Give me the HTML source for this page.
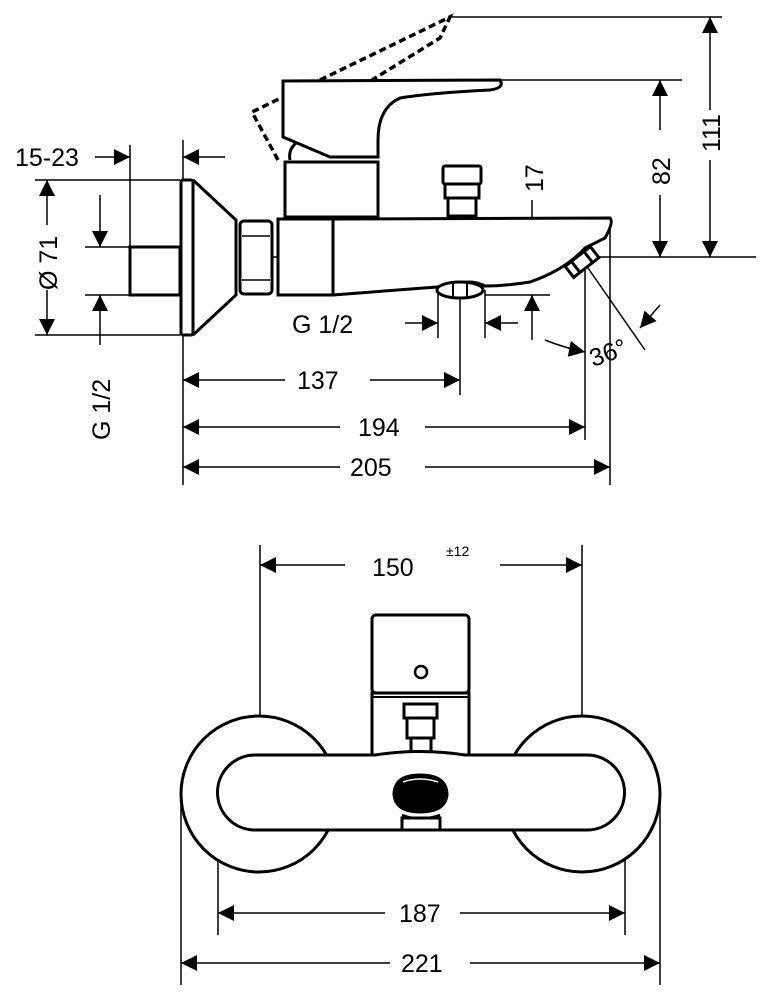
<!DOCTYPE html>
<html><head><style>body{margin:0;background:#fff}svg{display:block}text{font-family:"Liberation Sans",sans-serif;font-size:25px;fill:#000}</style></head><body>
<svg width="764" height="1004" viewBox="0 0 764 1004" xmlns="http://www.w3.org/2000/svg">
<defs>
<marker id="a" viewBox="0 0 10 10" refX="10" refY="5" markerWidth="22" markerHeight="16" markerUnits="userSpaceOnUse" orient="auto"><path d="M0,0L10,5L0,10Z"/></marker>
</defs>
<g fill="none" stroke="#000" stroke-width="1.5">
<line x1="450" y1="17" x2="722" y2="17"/>
<line x1="500" y1="80" x2="682" y2="80"/>
<line x1="265" y1="257" x2="756" y2="257"/>
<line x1="35" y1="180" x2="180" y2="180"/>
<line x1="35" y1="335" x2="180" y2="335"/>
<line x1="85" y1="247" x2="130" y2="247"/>
<line x1="85" y1="295" x2="130" y2="295"/>
<line x1="130" y1="145" x2="130" y2="247"/>
<line x1="183" y1="140" x2="183" y2="485"/>
<line x1="438" y1="290" x2="438" y2="338"/>
<line x1="485" y1="290" x2="485" y2="338"/>
<line x1="460" y1="292" x2="460" y2="395"/>
<line x1="485" y1="295" x2="550" y2="295"/>
<line x1="585" y1="268" x2="585" y2="440"/>
<line x1="610" y1="222" x2="610" y2="485"/>
<line x1="588" y1="268" x2="645" y2="350"/>
<line x1="710" y1="110" x2="710" y2="17" marker-end="url(#a)"/>
<line x1="710" y1="160" x2="710" y2="257" marker-end="url(#a)"/>
<line x1="660" y1="130" x2="660" y2="80" marker-end="url(#a)"/>
<line x1="660" y1="195" x2="660" y2="257" marker-end="url(#a)"/>
<line x1="532" y1="200" x2="532" y2="257" marker-end="url(#a)"/>
<line x1="532" y1="340" x2="532" y2="295" marker-end="url(#a)"/>
<line x1="95" y1="157" x2="130" y2="157" marker-end="url(#a)"/>
<line x1="225" y1="157" x2="183" y2="157" marker-end="url(#a)"/>
<line x1="47" y1="225" x2="47" y2="180" marker-end="url(#a)"/>
<line x1="47" y1="290" x2="47" y2="335" marker-end="url(#a)"/>
<line x1="100" y1="195" x2="100" y2="247" marker-end="url(#a)"/>
<line x1="100" y1="345" x2="100" y2="295" marker-end="url(#a)"/>
<line x1="405" y1="323" x2="438" y2="323" marker-end="url(#a)"/>
<line x1="518" y1="323" x2="485" y2="323" marker-end="url(#a)"/>
<path d="M545,340 Q565,348 585,352" marker-end="url(#a)"/>
<line x1="660" y1="305" x2="640" y2="328" marker-end="url(#a)"/>
<line x1="285" y1="380" x2="183" y2="380" marker-end="url(#a)"/>
<line x1="370" y1="380" x2="460" y2="380" marker-end="url(#a)"/>
<line x1="340" y1="427" x2="183" y2="427" marker-end="url(#a)"/>
<line x1="425" y1="427" x2="585" y2="427" marker-end="url(#a)"/>
<line x1="340" y1="467" x2="183" y2="467" marker-end="url(#a)"/>
<line x1="425" y1="467" x2="610" y2="467" marker-end="url(#a)"/>
<line x1="260" y1="545" x2="260" y2="718"/>
<line x1="582" y1="545" x2="582" y2="718"/>
<line x1="345" y1="565" x2="260" y2="565" marker-end="url(#a)"/>
<line x1="500" y1="565" x2="582" y2="565" marker-end="url(#a)"/>
<line x1="218" y1="800" x2="218" y2="935"/>
<line x1="625" y1="800" x2="625" y2="935"/>
<line x1="181" y1="800" x2="181" y2="985"/>
<line x1="660" y1="800" x2="660" y2="985"/>
<line x1="385" y1="913" x2="218" y2="913" marker-end="url(#a)"/>
<line x1="460" y1="913" x2="625" y2="913" marker-end="url(#a)"/>
<line x1="390" y1="963" x2="181" y2="963" marker-end="url(#a)"/>
<line x1="470" y1="963" x2="660" y2="963" marker-end="url(#a)"/>
</g>
<g fill="none" stroke="#000" stroke-width="3">
<path d="M278,160 L252,112 L283,97" stroke-dasharray="7,4" stroke-width="3.5"/>
<path d="M320,80 L450,17 L440,38 L372,80" stroke-dasharray="7,4" stroke-width="3.5"/>
<path d="M283,81 L500,80 Q505,88 490,90 Q430,93 400,98 Q378,108 378,140 L378,157 L330,157 L283,137 Z" fill="#fff"/>
<path d="M290,160 Q288,150 296,143"/>
<rect x="285" y="162" width="93" height="55" fill="#fff"/>
<path d="M333,219 L610,218 Q614,222 605,238 L585,248 Q565,270 530,282 Q505,286 485,286 Q470,278 450,286 L333,295" fill="#fff"/>
<rect x="278" y="219" width="55" height="76" fill="#fff"/>
<rect x="240" y="221" width="32" height="73" rx="4" fill="#fff"/>
<line x1="242" y1="236" x2="270" y2="236" stroke-width="1.5"/>
<line x1="242" y1="280" x2="270" y2="280" stroke-width="1.5"/>
<path d="M193,180 L236,220 L236,295 L193,335" fill="#fff"/>
<rect x="181" y="180" width="12" height="155" rx="2" fill="#fff"/>
<rect x="130" y="247" width="50" height="48" fill="#fff"/>
<rect x="443" y="166" width="38" height="18" rx="2" fill="#fff"/>
<rect x="445" y="184" width="34" height="14"/>
<rect x="448" y="198" width="28" height="18"/>
<ellipse cx="460" cy="290" rx="23" ry="8" fill="#fff"/>
<line x1="453" y1="283" x2="453" y2="297" stroke-width="2"/>
<line x1="467" y1="283" x2="467" y2="297" stroke-width="2"/>
<g transform="translate(582,262) rotate(-38)"><rect x="-16" y="-7" width="32" height="14" fill="#fff"/><line x1="-8" y1="-7" x2="-8" y2="7"/><line x1="8" y1="-7" x2="8" y2="7"/></g>
<circle cx="259" cy="794" r="78" fill="#fff"/>
<circle cx="582" cy="794" r="78" fill="#fff"/>
<rect x="372" y="693" width="97" height="62" fill="#fff"/>
<rect x="404" y="704" width="33" height="14"/>
<rect x="407" y="718" width="27" height="20"/>
<rect x="411" y="738" width="20" height="17"/>
<path d="M255,755 L375,755 Q420,748 465,755 L587,755 A37,37 0 0 1 587,830 L255,830 A37,37 0 0 1 255,755 Z" fill="#fff"/>
<rect x="372" y="615" width="97" height="78" rx="4" fill="#fff"/>
<line x1="372" y1="697" x2="469" y2="697" stroke-width="2"/>
<circle cx="421" cy="672" r="6" stroke-width="2.5"/>
<path d="M394,795 Q394,775 420,775 Q447,775 447,795 Q445,812 420,812 Q396,812 394,795 Z" fill="#000"/>
<path d="M403,782 Q420,776 438,782" stroke="#fff" stroke-width="1.5"/>
<path d="M402,815 Q420,822 440,815" stroke-width="2.5"/>
<rect x="402" y="818" width="38" height="12" fill="#fff"/>
</g>
<text x="15" y="166">15-23</text>
<text x="292" y="333">G 1/2</text>
<text x="297" y="389">137</text>
<text x="358" y="436">194</text>
<text x="350" y="476">205</text>
<text x="372" y="576">150</text>
<text x="446" y="556" style="font-size:14px">±12</text>
<text x="399" y="922">187</text>
<text x="401" y="972">221</text>
<text x="588" y="362" transform="rotate(-20 605 350)">36°</text>
<text transform="translate(720,152) rotate(-90)">111</text>
<text transform="translate(670,185) rotate(-90)">82</text>
<text transform="translate(543,192) rotate(-90)">17</text>
<text transform="translate(57,290) rotate(-90)">Ø 71</text>
<text transform="translate(110,440) rotate(-90)">G 1/2</text>
</svg>
</body></html>
